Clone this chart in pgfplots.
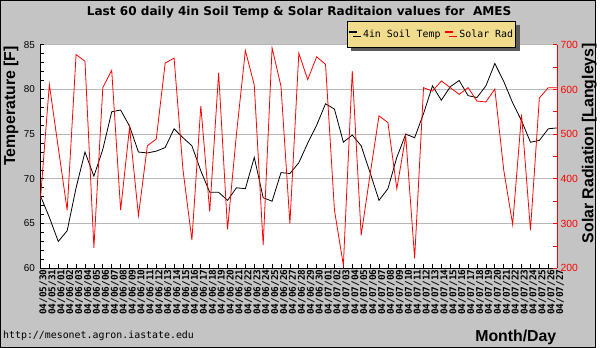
\documentclass[border=0pt]{standalone}
\usepackage{fontspec}
\setmainfont{Liberation Sans}
\newfontfamily\titlefont{DejaVu Sans}
\newfontfamily\monofont{DejaVu Sans Mono}
\usepackage{pgfplots}
\usepackage{pgfplotstable}
\pgfplotsset{compat=1.18}
\usetikzlibrary{shadows}
\definecolor{bggray}{RGB}{196,196,196}
\definecolor{gridgray}{RGB}{184,184,184}
\definecolor{legfill}{RGB}{240,220,140}
\definecolor{shadowgray}{RGB}{90,90,90}

\pgfplotstableread{
i T L
0 68.1 355
1 65.7 611
2 63.0 470
3 64.2 330
4 69.0 678
5 73.0 663
6 70.3 246
7 73.3 604
8 77.5 643
9 77.7 330
10 75.9 515
11 73.0 318
12 72.9 474
13 73.1 489
14 73.5 659
15 75.6 670
16 74.6 420
17 73.7 263
18 70.9 563
19 68.5 327
20 68.5 637
21 67.6 287
22 69.0 500
23 68.9 687
24 72.4 610
25 67.9 252
26 67.5 693
27 70.7 607
28 70.6 300
29 71.8 681
30 74.0 622
31 76.0 673
32 78.4 656
33 77.8 330
34 74.1 207
35 74.9 641
36 73.7 274
37 70.7 410
38 67.6 541
39 68.9 526
40 72.4 378
41 75.0 496
42 74.6 222
43 77.3 604
44 80.4 596
45 78.8 619
46 80.3 604
47 81.0 589
48 79.3 604
49 79.1 574
50 80.4 572
51 82.9 601
52 80.9 420
53 78.5 298
54 76.5 544
55 74.1 285
56 74.3 581
57 75.6 604
58 75.7 604
}\data

\begin{document}
\begin{tikzpicture}[x=1bp,y=1bp]
\fill[bggray] (0,0) rectangle (600,350);
\draw[black, line width=1bp] (0.5,0.5) rectangle (599.5,349.5);

\begin{axis}[
  at={(40.7bp,80bp)}, anchor=south west,
  scale only axis, width=520bp, height=225bp,
  xmin=0, xmax=58, ymin=60, ymax=85,
  axis background/.style={fill=white},
  axis x line*=bottom, axis y line*=left,
  axis line style={black, line width=0.8bp},
  tick align=inside,
  xtick={0,...,58},
  xticklabels={04/05/30,04/05/31,04/06/01,04/06/02,04/06/03,04/06/04,04/06/05,04/06/06,04/06/07,04/06/08,04/06/09,04/06/10,04/06/11,04/06/12,04/06/13,04/06/14,04/06/15,04/06/16,04/06/17,04/06/18,04/06/19,04/06/20,04/06/21,04/06/22,04/06/23,04/06/24,04/06/25,04/06/26,04/06/27,04/06/28,04/06/29,04/06/30,04/07/01,04/07/02,04/07/03,04/07/04,04/07/05,04/07/06,04/07/07,04/07/08,04/07/09,04/07/10,04/07/11,04/07/12,04/07/13,04/07/14,04/07/15,04/07/16,04/07/17,04/07/18,04/07/19,04/07/20,04/07/21,04/07/22,04/07/23,04/07/24,04/07/25,04/07/26,04/07/27},
  x tick label style={rotate=90, anchor=east, font=\monofont\bfseries\fontsize{9.5}{9.5}\selectfont, inner sep=1bp, yshift=-3bp},
  ytick={60,65,...,85},
  minor y tick num=4,
  ymajorgrids, grid style={gridgray, line width=0.8bp},
  major tick length=4bp, minor tick length=4bp,
  tick style={black, line width=0.8bp},
  y tick label style={font=\fontsize{10}{10}\selectfont, xshift=-2bp},
  /pgf/number format/assume math mode=true,
]
\addplot[black, line width=0.8bp] table[x=i,y=T]{\data};
\end{axis}

\begin{axis}[
  at={(40.7bp,80bp)}, anchor=south west,
  scale only axis, width=520bp, height=225bp,
  xmin=0, xmax=58, ymin=200, ymax=700,
  axis x line=none, axis y line*=right,
  axis line style={red, line width=0.8bp},
  tick align=inside,
  ytick={200,300,...,700},
  minor y tick num=1,
  major tick length=4bp, minor tick length=4bp,
  tick style={red, line width=0.8bp},
  y tick label style={red, font=\fontsize{10.5}{10.5}\selectfont},
  /pgf/number format/assume math mode=true,
  legend columns=2,
  legend cell align=left,
  legend image code/.code={\draw[#1, line width=2.5bp] (0bp,2.2bp) -- (8bp,2.2bp);},
  legend style={at={(0.593,1.106)}, anchor=north west,
    fill=legfill, draw=black, line width=0.6bp,
    font=\monofont\fontsize{10}{10}\selectfont,
    inner xsep=0.5bp, inner ysep=6.5bp,
    /tikz/every even column/.append style={column sep=1.5bp},
    drop shadow={shadow xshift=4bp, shadow yshift=-4bp, fill=shadowgray, opacity=1}},
]
\addlegendimage{black, line width=0.8bp}
\addlegendentry{\hspace{3bp}4in Soil Temp}
\addplot[red, line width=0.8bp] table[x=i,y=L]{\data};
\addlegendentry{\hspace{3bp}Solar Rad}
\end{axis}

\node[font=\titlefont\bfseries\fontsize{12.2}{12.2}\selectfont] at (301,337.5) {Last 60 daily 4in Soil Temp \& Solar Raditaion values for\ \ AMES};
\node[rotate=90, anchor=east, font=\bfseries\fontsize{16}{16}\selectfont] at (11,307) {Temperature [F]};
\node[rotate=90, anchor=east, font=\bfseries\fontsize{16}{16}\selectfont] at (593,310) {Solar Radiation [Langleys]};
\node[anchor=base east, font=\bfseries\fontsize{16}{16}\selectfont, inner sep=0pt] at (560,6) {Month/Day};
\node[anchor=base west, font=\monofont\fontsize{10}{10}\selectfont, inner sep=0pt] at (3,9) {http://mesonet.agron.iastate.edu};
\end{tikzpicture}
\end{document}
